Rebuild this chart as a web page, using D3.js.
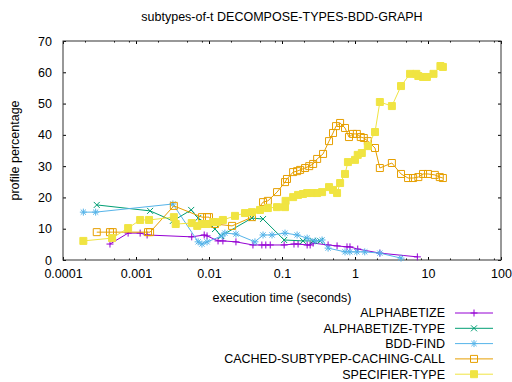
<!DOCTYPE html>
<html>
<head>
<meta charset="utf-8">
<script src="https://cdn.jsdelivr.net/npm/d3@7"></script>
<style>
  body { margin: 0; background: #fff; }
  text { font-family: "Liberation Sans", Arial, sans-serif; fill: #000; }
</style>
</head>
<body>
<div id="chart"></div>
<script>
// values (x = seconds, y = percent)
var seriesNames = ["ALPHABETIZE", "ALPHABETIZE-TYPE", "BDD-FIND",
                   "CACHED-SUBTYPEP-CACHING-CALL", "SPECIFIER-TYPE"];

var alphabetize = [
  [0.00044, 5.1], [0.00078, 8.6], [0.00114, 8.6], [0.00142, 8.0], [0.0058, 7.4],
  [0.0086, 8.0], [0.0094, 7.7], [0.0133, 6.1], [0.0155, 6.1], [0.0234, 5.8],
  [0.040, 4.8], [0.053, 4.8], [0.060, 4.8], [0.069, 4.8], [0.107, 4.8],
  [0.146, 5.1], [0.166, 5.1], [0.221, 4.8], [0.243, 4.8], [0.267, 5.4],
  [0.428, 4.8], [0.568, 4.5], [0.777, 4.2], [0.853, 4.2], [1.09, 3.5],
  [2.19, 2.2], [7.15, 1.0]
];
var alphabetizeType = [
  [0.00029, 17.6], [0.00156, 15.7], [0.0032, 12.5], [0.0057, 16.0], [0.0071, 13.4],
  [0.0121, 9.9], [0.0146, 7.7], [0.0388, 13.4], [0.055, 13.1], [0.107, 6.4],
  [0.194, 6.1], [0.267, 6.1], [0.332, 6.1]
];
var bddFind = [
  [0.00019, 15.3], [0.00028, 15.3], [0.0032, 17.9], [0.0071, 5.8], [0.0080, 5.1],
  [0.0094, 5.8], [0.0151, 7.7], [0.0165, 8.6], [0.0234, 8.3], [0.0426, 5.8],
  [0.055, 8.0], [0.073, 8.0], [0.110, 8.6], [0.161, 8.0], [0.221, 7.0],
  [0.284, 6.1], [0.354, 6.4], [0.428, 3.8], [0.73, 2.6], [0.85, 2.6],
  [1.06, 2.6], [1.36, 2.6], [2.19, 2.2], [4.27, 0.6]
];
var cachedSubtypep = [
  [0.00029, 8.9], [0.00044, 8.9], [0.00048, 8.9], [0.00146, 8.9], [0.00156, 8.9],
  [0.0033, 17.3], [0.0080, 13.7], [0.0094, 13.7], [0.0100, 13.7], [0.0121, 11.5],
  [0.0207, 10.9], [0.0388, 13.7], [0.055, 18.5], [0.064, 18.9], [0.0855, 21.7],
  [0.110, 24.9], [0.117, 25.9], [0.142, 28.1], [0.161, 28.4], [0.177, 28.8],
  [0.207, 29.4], [0.236, 30.0], [0.267, 30.7], [0.303, 32.3], [0.365, 33.9],
  [0.441, 38.0], [0.50, 40.6], [0.55, 42.8], [0.625, 43.8], [0.73, 42.2],
  [0.827, 39.3], [0.938, 40.3], [1.06, 40.3], [1.20, 39.3], [1.32, 39.0],
  [1.50, 38.0], [1.88, 35.8], [2.19, 29.4], [3.20, 31.0], [4.27, 27.5],
  [5.33, 26.2], [6.25, 26.2], [7.37, 26.5], [8.55, 27.5], [10.0, 27.5],
  [12.4, 27.2], [14.5, 26.5], [16.0, 26.2]
];
var specifierType = [
  [0.00019, 6.1], [0.00047, 7.0], [0.00078, 10.2], [0.00114, 12.8], [0.00151, 12.8],
  [0.0033, 13.7], [0.0035, 11.5], [0.0058, 11.8], [0.0069, 10.9], [0.0080, 11.5],
  [0.0094, 11.5], [0.0114, 12.1], [0.0129, 12.1], [0.0155, 12.8], [0.0227, 14.1],
  [0.0311, 15.0], [0.0388, 15.3], [0.050, 16.0], [0.064, 16.6], [0.0855, 16.9],
  [0.110, 16.9], [0.112, 18.9], [0.142, 20.1], [0.166, 20.8], [0.194, 21.1],
  [0.221, 21.4], [0.259, 21.4], [0.303, 21.4], [0.354, 21.7], [0.441, 23.3],
  [0.50, 22.4], [0.568, 21.4], [0.625, 24.6], [0.73, 27.5], [0.80, 31.3],
  [1.0, 32.0], [1.09, 33.6], [1.24, 34.2], [1.50, 36.4], [1.88, 40.9],
  [2.19, 50.5], [3.20, 49.2], [4.27, 55.6], [5.68, 59.5], [6.92, 59.5],
  [7.37, 58.8], [8.55, 58.5], [9.66, 58.5], [11.9, 59.5], [14.8, 62.0],
  [16.0, 61.7]
];

var xTicks = [0.0001, 0.001, 0.01, 0.1, 1, 10, 100];
var xTickLabels = ["0.0001", "0.001", "0.01", "0.1", "1", "10", "100"];
var yTicks = [0, 10, 20, 30, 40, 50, 60, 70];

var allSeries = [alphabetize, alphabetizeType, bddFind, cachedSubtypep, specifierType];
var colors = ["#9400d3", "#009e73", "#56b4e9", "#e69f00", "#f0e442"];
var markers = ["plus", "cross", "star", "square", "fsquare"];

var svgWidth = 512, svgHeight = 382;
var margin = {top: 41, right: 11, bottom: 122, left: 63};
var width = svgWidth - margin.left - margin.right;
var height = svgHeight - margin.top - margin.bottom;

var svg = d3.select("#chart").append("svg")
  .attr("width", svgWidth)
  .attr("height", svgHeight);

var chartGroup = svg.append("g")
  .attr("transform", `translate(${margin.left}, ${margin.top})`);

var xLogScale = d3.scaleLog().domain([0.0001, 100]).range([0, width]);
var yLinearScale = d3.scaleLinear().domain([0, 70]).range([height, 0]);

// minor ticks (2, 5, 8 within each decade)
var minorTicks = [];
xTicks.slice(0, -1).forEach(function(t) {
  [2, 5, 8].forEach(function(m) { minorTicks.push(t * m); });
});

function styleAxis(g) {
  g.select(".domain").remove();
  g.selectAll("line").attr("stroke", "#000");
  g.selectAll("text").style("font-size", "12.5px").attr("fill", "#000");
}

chartGroup.append("g")
  .attr("transform", `translate(0, ${height})`)
  .call(d3.axisBottom(xLogScale).tickValues(xTicks)
    .tickFormat(function(d, i) { return xTickLabels[i]; })
    .tickSize(-3).tickPadding(9))
  .call(styleAxis);
chartGroup.append("g")
  .attr("transform", `translate(0, ${height})`)
  .call(d3.axisBottom(xLogScale).tickValues(minorTicks).tickFormat("").tickSize(-1.5))
  .call(styleAxis);
chartGroup.append("g")
  .call(d3.axisTop(xLogScale).tickValues(xTicks).tickFormat("").tickSize(-3))
  .call(styleAxis);
chartGroup.append("g")
  .call(d3.axisTop(xLogScale).tickValues(minorTicks).tickFormat("").tickSize(-1.5))
  .call(styleAxis);
chartGroup.append("g")
  .call(d3.axisLeft(yLinearScale).tickValues(yTicks).tickSize(-3).tickPadding(11))
  .call(styleAxis);
chartGroup.append("g")
  .attr("transform", `translate(${width}, 0)`)
  .call(d3.axisRight(yLinearScale).tickValues(yTicks).tickFormat("").tickSize(-3))
  .call(styleAxis);

chartGroup.append("rect")
  .attr("width", width).attr("height", height)
  .attr("fill", "none").attr("stroke", "#333").attr("stroke-width", 1);

function markerPath(type) {
  var s = 3.5;
  if (type === "plus") return `M${-s},0H${s}M0,${-s}V${s}`;
  if (type === "cross") return `M${-3},${-3}L3,3M${-3},3L3,${-3}`;
  if (type === "star") return `M${-s},0H${s}M0,${-s}V${s}M-2.6,-2.6L2.6,2.6M-2.6,2.6L2.6,-2.6`;
  return `M${-s},${-s}H${s}V${s}H${-s}Z`;
}

function drawMarker(g, type, color) {
  g.append("path")
    .attr("d", markerPath(type))
    .attr("fill", type === "fsquare" ? color : "none")
    .attr("stroke", color)
    .attr("stroke-width", 1);
}

var line = d3.line()
  .x(function(d) { return xLogScale(d[0]); })
  .y(function(d) { return yLinearScale(d[1]); });

allSeries.forEach(function(data, i) {
  var g = chartGroup.append("g");
  g.append("path")
    .datum(data)
    .attr("d", line)
    .attr("fill", "none")
    .attr("stroke", colors[i])
    .attr("stroke-width", 1);
  g.selectAll(null)
    .data(data)
    .enter()
    .append("g")
    .attr("transform", function(d) { return `translate(${xLogScale(d[0])}, ${yLinearScale(d[1])})`; })
    .each(function() { drawMarker(d3.select(this), markers[i], colors[i]); });
});

// title and axis labels
svg.append("text")
  .attr("x", margin.left + width / 2).attr("y", 21)
  .attr("text-anchor", "middle").style("font-size", "12.5px")
  .text("subtypes-of-t DECOMPOSE-TYPES-BDD-GRAPH");

svg.append("text")
  .attr("x", margin.left + width / 2).attr("y", 302)
  .attr("text-anchor", "middle").style("font-size", "12.5px")
  .text("execution time (seconds)");

svg.append("text")
  .attr("transform", "rotate(-90)")
  .attr("x", -(margin.top + height / 2)).attr("y", 19)
  .attr("text-anchor", "middle").style("font-size", "12.5px")
  .text("profile percentage");

// legend
var legend = svg.append("g");
seriesNames.forEach(function(name, i) {
  var yy = 313 + i * 15.3;
  legend.append("text")
    .attr("x", 445).attr("y", yy).attr("dy", "0.35em")
    .attr("text-anchor", "end").style("font-size", "12.5px")
    .text(name);
  legend.append("line")
    .attr("x1", 455).attr("x2", 493).attr("y1", yy).attr("y2", yy)
    .attr("stroke", colors[i]).attr("stroke-width", 1);
  var mg = legend.append("g").attr("transform", `translate(474, ${yy})`);
  drawMarker(mg, markers[i], colors[i]);
});
</script>
</body>
</html>
